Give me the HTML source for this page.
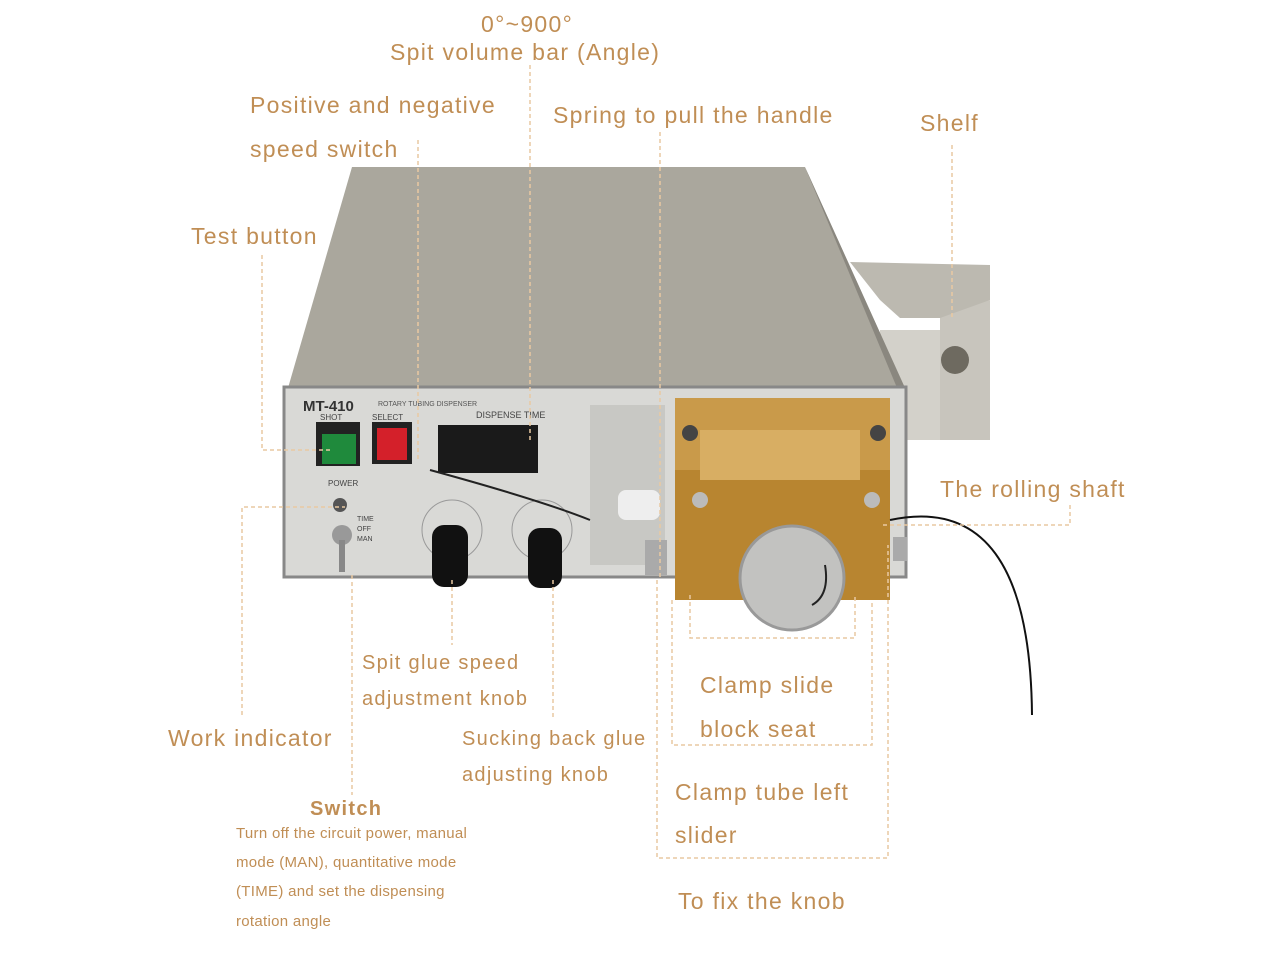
<!DOCTYPE html>
<html><head><meta charset="utf-8"><style>
body{margin:0;background:#fff;width:1280px;height:960px;overflow:hidden;font-family:"Liberation Sans",sans-serif}
svg{position:absolute;left:0;top:0}
</style></head><body>
<svg width="1280" height="960" viewBox="0 0 1280 960">
<!-- shelf -->
<polygon points="850,262 990,265 990,300 950,318 900,318 880,300" fill="#bcb9b0"/>
<polygon points="940,318 990,300 990,440 940,440" fill="#c8c5bd"/>
<polygon points="880,330 940,330 940,440 880,440" fill="#d3d1ca"/>
<circle cx="955" cy="360" r="14" fill="#6e6a60"/>
<!-- top face -->
<polygon points="352,167 805,167 905,388 288,388" fill="#aaa79d"/>
<polygon points="805,167 905,388 905,395 900,395" fill="#8a877f"/>
<!-- front panel -->
<rect x="284" y="387" width="622" height="190" fill="#d9d9d6" stroke="#888" stroke-width="3"/>
<text x="303" y="411" font-size="15" font-weight="bold" fill="#333">MT-410</text>
<text x="378" y="406" font-size="7" fill="#555">ROTARY TUBING DISPENSER</text>
<text x="320" y="420" font-size="8" fill="#444">SHOT</text>
<text x="372" y="420" font-size="8" fill="#444">SELECT</text>
<text x="476" y="418" font-size="9" fill="#444">DISPENSE TIME</text>
<rect x="316" y="422" width="44" height="44" fill="#222"/>
<rect x="322" y="434" width="34" height="30" fill="#1f8a3c"/>
<rect x="372" y="422" width="40" height="42" fill="#222"/>
<rect x="377" y="428" width="30" height="32" fill="#d4202a"/>
<rect x="438" y="425" width="100" height="48" fill="#1a1a1a"/>
<text x="328" y="486" font-size="8" fill="#444">POWER</text>
<circle cx="340" cy="505" r="7" fill="#555"/>
<circle cx="342" cy="535" r="10" fill="#999"/>
<rect x="339" y="540" width="6" height="32" fill="#888"/>
<text x="357" y="521" font-size="7" fill="#444">TIME</text>
<text x="357" y="531" font-size="7" fill="#444">OFF</text>
<text x="357" y="541" font-size="7" fill="#444">MAN</text>
<circle cx="452" cy="530" r="30" fill="none" stroke="#999"/>
<rect x="432" y="525" width="36" height="62" rx="12" fill="#111"/>
<circle cx="542" cy="530" r="30" fill="none" stroke="#999"/>
<rect x="528" y="528" width="34" height="60" rx="12" fill="#111"/>
<rect x="590" y="405" width="75" height="160" fill="#c8c8c4"/>
<path d="M430 470 Q540 500 590 520" stroke="#222" stroke-width="2" fill="none"/>
<rect x="618" y="490" width="42" height="30" rx="8" fill="#eee"/>
<!-- gold clamp -->
<rect x="675" y="398" width="215" height="105" fill="#c99a4a"/>
<rect x="675" y="470" width="215" height="130" fill="#b88530"/>
<rect x="700" y="430" width="160" height="50" fill="#d8ae63"/>
<circle cx="690" cy="433" r="8" fill="#444"/>
<circle cx="878" cy="433" r="8" fill="#444"/>
<circle cx="700" cy="500" r="8" fill="#bbb"/>
<circle cx="872" cy="500" r="8" fill="#bbb"/>
<circle cx="792" cy="578" r="52" fill="#c2c2c0" stroke="#999" stroke-width="3"/>
<path d="M825 565 Q830 595 812 605" stroke="#222" stroke-width="2" fill="none"/>
<path d="M890 520 Q1030 490 1032 715" stroke="#111" stroke-width="2" fill="none"/>
<rect x="893" y="537" width="14" height="24" fill="#aaa"/>
<rect x="645" y="540" width="22" height="35" fill="#aaa"/>
<!-- leaders -->
<g stroke="#e9c9a2" stroke-width="1.5" stroke-dasharray="4 3" fill="none">
<path d="M262 255 V450 H330"/>
<path d="M418 140 V460"/>
<path d="M530 65 V440"/>
<path d="M660 132 V578"/>
<path d="M952 145 V318"/>
<path d="M1070 505 V525 H880"/>
<path d="M242 715 V507 H345"/>
<path d="M352 575 V795"/>
<path d="M452 580 V645"/>
<path d="M553 580 V720"/>
<path d="M690 595 V638 H855 V595"/>
<path d="M672 600 V745 H872 V600"/>
<path d="M657 580 V858 H888 V545"/>
</g>
<g fill="#c08e55" font-size="23" letter-spacing="1.3">
<text x="481" y="32">0°~900°</text>
<text x="390" y="60">Spit volume bar (Angle)</text>
<text x="250" y="113">Positive and negative</text>
<text x="250" y="157">speed switch</text>
<text x="553" y="123">Spring to pull the handle</text>
<text x="920" y="131">Shelf</text>
<text x="191" y="244">Test button</text>
<text x="940" y="497">The rolling shaft</text>
<text x="362" y="669" font-size="20">Spit glue speed</text>
<text x="362" y="705" font-size="20">adjustment knob</text>
<text x="700" y="693">Clamp slide</text>
<text x="700" y="737">block seat</text>
<text x="168" y="746">Work indicator</text>
<text x="462" y="745" font-size="20">Sucking back glue</text>
<text x="462" y="781" font-size="20">adjusting knob</text>
<text x="675" y="800">Clamp tube left</text>
<text x="675" y="843">slider</text>
<text x="310" y="815" font-size="20" font-weight="bold">Switch</text>
<text x="678" y="909">To fix the knob</text>
<g font-size="15" letter-spacing="0.3">
<text x="236" y="838">Turn off the circuit power, manual</text>
<text x="236" y="867">mode (MAN), quantitative mode</text>
<text x="236" y="896">(TIME) and set the dispensing</text>
<text x="236" y="926">rotation angle</text>
</g>
</g>
</svg>
</body></html>
